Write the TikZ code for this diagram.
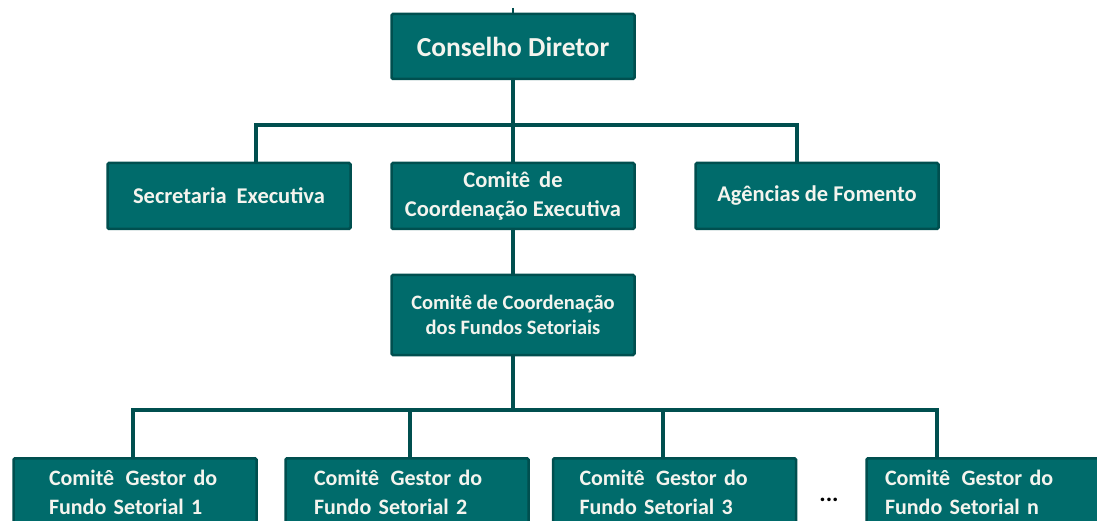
\documentclass[tikz,border=0pt]{standalone}
\usepackage{fontspec}
\setmainfont{Carlito}
\definecolor{tealfill}{HTML}{006B6B}
\definecolor{tealedge}{HTML}{004F4F}
\definecolor{boxtext}{HTML}{F4F4EE}
\tikzset{
orgbox/.style={rectangle, rounded corners=1.5pt, draw=tealedge, line width=2.5pt, fill=tealfill, text=boxtext, font=\bfseries\fontsize{22.5}{29}\selectfont, align=center, inner sep=0pt, minimum width=243pt, minimum height=66pt},
fsbox/.style={orgbox, align=left, text width=#1, font=\bfseries\fontsize{22}{29}\selectfont, minimum height=68pt},
orgline/.style={draw=tealedge, line width=3.5pt}
}
\begin{document}
\begin{tikzpicture}[x=1pt,y=-1pt]
\useasboundingbox (0,0) rectangle (1097,521);
\clip (0,0) rectangle (1097,521);
\node[orgbox, minimum height=65pt, font=\bfseries\fontsize{27.5}{30}\selectfont] (cd) at (513,46.5) {Conselho Diretor};
\node[orgbox] (se) at (229,196) {Secretaria\hspace{5pt} Executiva};
\node[orgbox] (cce) at (513,196) {Comitê\hspace{4pt} de\\Coordenação Executiva};
\node[orgbox] (af) at (817,196) {Agências de Fomento};
\node[orgbox, minimum height=80pt, font=\bfseries\fontsize{20.5}{25}\selectfont] (ccfs) at (513,315) {Comitê de Coordenação\\dos Fundos Setoriais};
\node[fsbox=172pt] (fs1) at (135,492.25) {Comitê\hspace{4pt} Gestor do\\Fundo Setorial 1};
\node[fsbox=186pt] (fs2) at (407,492.25) {Comitê\hspace{4pt} Gestor do\\Fundo Setorial 2};
\node[fsbox=190pt] (fs3) at (674.5,492.25) {Comitê\hspace{4pt} Gestor do\\Fundo Setorial 3};
\node[fsbox=206pt] (fsn) at (988,492.25) {Comitê\hspace{4pt} Gestor do\\Fundo Setorial n};
\node[font=\bfseries\fontsize{24}{26}\selectfont] (dots) at (829,500) {...};
\coordinate (tick) at (513,8);
\coordinate (busTop) at (513,125);
\coordinate (busLow) at (513,410);
\draw[tealedge, line width=1.5pt] (tick) -- (cd.north);
\draw[orgline] (cd.south) -- (cce.north);
\draw[orgline] (busTop) -| ([xshift=27pt]se.north);
\draw[orgline] (busTop) -| ([xshift=-20pt]af.north);
\draw[orgline] (cce.south) -- (ccfs.north);
\draw[orgline] (ccfs.south) -- (busLow);
\draw[orgline] (busLow) -| ([xshift=-2pt]fs1.north);
\draw[orgline] (busLow) -| ([xshift=3pt]fs2.north);
\draw[orgline] (busLow) -| ([xshift=-11.5pt]fs3.north);
\draw[orgline] (busLow) -| ([xshift=-51pt]fsn.north);
\end{tikzpicture}
\end{document}
